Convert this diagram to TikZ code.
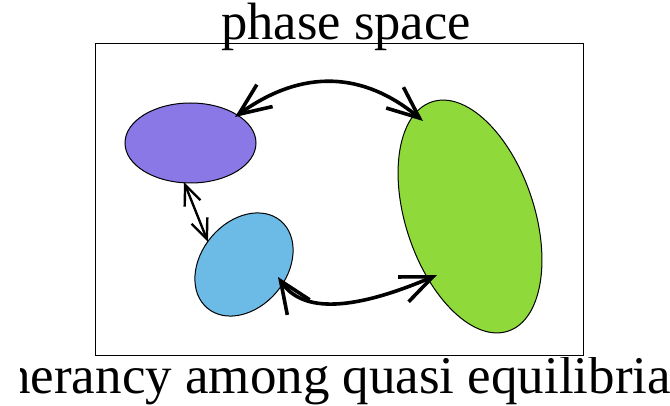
\documentclass[tikz,border=0pt]{standalone}
\usepackage{fontspec}
\setmainfont{Liberation Serif}
\usetikzlibrary{shapes.geometric,arrows.meta,calc}
\definecolor{cpurple}{RGB}{137,120,230}
\definecolor{cblue}{RGB}{107,187,230}
\definecolor{cgreen}{RGB}{143,218,58}
\begin{document}
\begin{tikzpicture}[x=1pt,y=-1pt,
  blob/.style={ellipse,draw=black,line width=1pt,inner sep=0pt,outer sep=0pt},
  bigarrow/.style={line width=3.6pt,{Straight Barb[length=32pt,width=27pt]}-{Straight Barb[length=32pt,width=27pt]}},
  smallarrow/.style={line width=2.4pt,{Straight Barb[length=20pt,width=17pt]}-{Straight Barb[length=20pt,width=17pt]}},
  label/.style={inner sep=0pt}]
\useasboundingbox (0,0) rectangle (670,406);
\node[draw=black,line width=1pt,minimum width=488pt,minimum height=312pt,inner sep=0pt,outer sep=0pt] (frame) at (339,200) {};
\node[label,anchor=base,font=\fontsize{52.5}{60}\selectfont] (title) at (346,39.5) {phase space};
\begin{scope}
\clip (20,358) rectangle (670,406);
\node[label,anchor=base west,font=\fontsize{53}{60}\selectfont] (caption) at (-43,393) {Itinerancy among quasi equilibria};
\end{scope}
\node[blob,fill=cpurple,minimum width=131pt,minimum height=80pt] (P) at (190.5,143) {};
\node[blob,fill=cblue,minimum width=114pt,minimum height=85.4pt,rotate=50] (B) at (244,264.5) {};
\node[blob,fill=cgreen,minimum width=128.6pt,minimum height=241.6pt,rotate=18.4] (G) at (470,216.5) {};
\draw[bigarrow] ($(P)+(44.5,-26)$) .. controls (303,68) and (364,72) .. ($(G)+(-47,-95.5)$);
\draw[smallarrow] ($(P)+(-6.5,39)$) -- ($(B)+(-36,-22.5)$);
\draw[bigarrow] ($(B)+(34,12.5)$) .. controls (303,314) and (355,310) .. ($(G)+(-33,58.5)$);
\end{tikzpicture}
\end{document}
